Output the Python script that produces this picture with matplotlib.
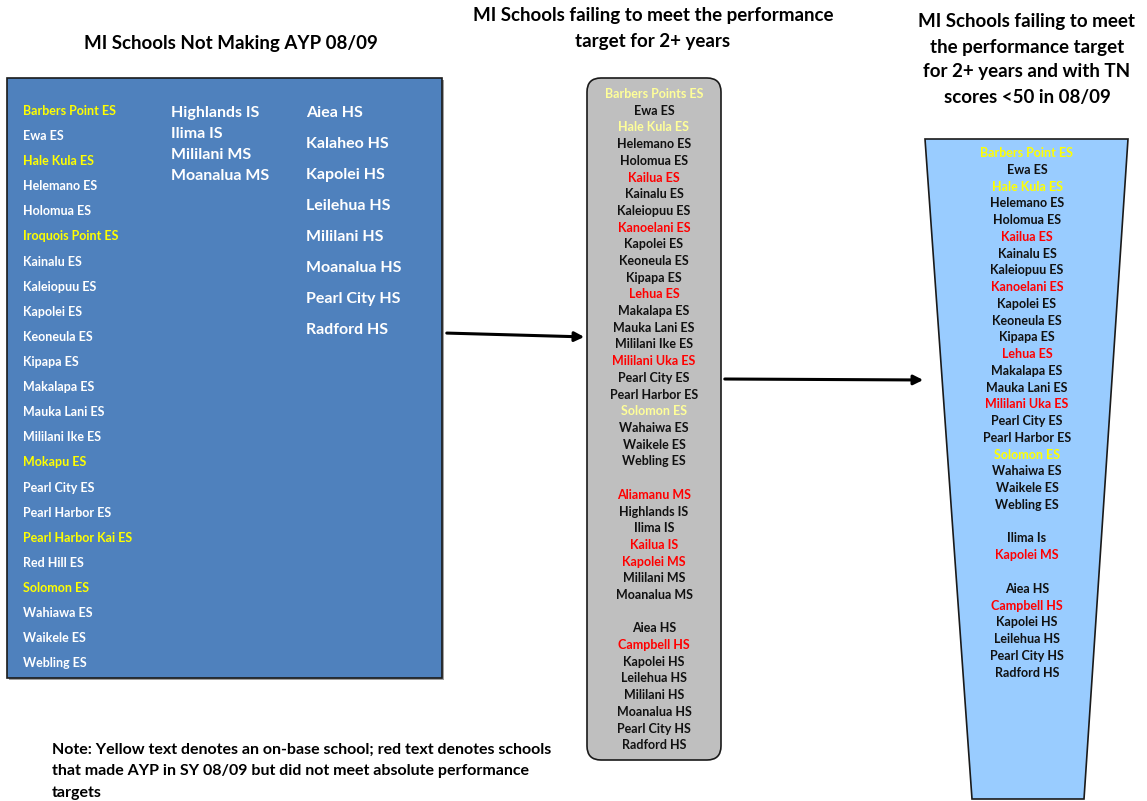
"""Flow diagram of MI schools not making AYP, 08/09."""
import matplotlib

matplotlib.use("Agg")
import matplotlib.pyplot as plt
from matplotlib.patches import FancyBboxPatch, Polygon, Rectangle

plt.rcParams["font.family"] = ["Lato", "DejaVu Sans"]

W, H = 1147, 801

# colour codes: "n" normal, "y" on-base school, "r" made AYP but missed absolute targets
left_es = [
    ("Barbers Point ES", "y"), ("Ewa ES", "n"), ("Hale Kula ES", "y"), ("Helemano ES", "n"),
    ("Holomua ES", "n"), ("Iroquois Point ES", "y"), ("Kainalu ES", "n"), ("Kaleiopuu ES", "n"),
    ("Kapolei ES", "n"), ("Keoneula ES", "n"), ("Kipapa ES", "n"), ("Makalapa ES", "n"),
    ("Mauka Lani ES", "n"), ("Mililani Ike ES", "n"), ("Mokapu ES", "y"), ("Pearl City ES", "n"),
    ("Pearl Harbor ES", "n"), ("Pearl Harbor Kai ES", "y"), ("Red Hill ES", "n"),
    ("Solomon ES", "y"), ("Wahiawa ES", "n"), ("Waikele ES", "n"), ("Webling ES", "n"),
]
left_ms = ["Highlands IS", "Ilima IS", "Mililani MS", "Moanalua MS"]
left_hs = ["Aiea HS", "Kalaheo HS", "Kapolei HS", "Leilehua HS", "Mililani HS",
           "Moanalua HS", "Pearl City HS", "Radford HS"]

mid_list = [
    ("Barbers Points ES", "y"), ("Ewa ES", "n"), ("Hale Kula ES", "y"), ("Helemano ES", "n"),
    ("Holomua ES", "n"), ("Kailua ES", "r"), ("Kainalu ES", "n"), ("Kaleiopuu ES", "n"),
    ("Kanoelani ES", "r"), ("Kapolei ES", "n"), ("Keoneula ES", "n"), ("Kipapa ES", "n"),
    ("Lehua ES", "r"), ("Makalapa ES", "n"), ("Mauka Lani ES", "n"), ("Mililani Ike ES", "n"),
    ("Mililani Uka ES", "r"), ("Pearl City ES", "n"), ("Pearl Harbor ES", "n"),
    ("Solomon ES", "y"), ("Wahaiwa ES", "n"), ("Waikele ES", "n"), ("Webling ES", "n"),
    ("", "n"),
    ("Aliamanu MS", "r"), ("Highlands IS", "n"), ("Ilima IS", "n"), ("Kailua IS", "r"),
    ("Kapolei MS", "r"), ("Mililani MS", "n"), ("Moanalua MS", "n"),
    ("", "n"),
    ("Aiea HS", "n"), ("Campbell HS", "r"), ("Kapolei HS", "n"), ("Leilehua HS", "n"),
    ("Mililani HS", "n"), ("Moanalua HS", "n"), ("Pearl City HS", "n"), ("Radford HS", "n"),
]

right_list = [
    ("Barbers Point ES", "y"), ("Ewa ES", "n"), ("Hale Kula ES", "y"), ("Helemano ES", "n"),
    ("Holomua ES", "n"), ("Kailua ES", "r"), ("Kainalu ES", "n"), ("Kaleiopuu ES", "n"),
    ("Kanoelani ES", "r"), ("Kapolei ES", "n"), ("Keoneula ES", "n"), ("Kipapa ES", "n"),
    ("Lehua ES", "r"), ("Makalapa ES", "n"), ("Mauka Lani ES", "n"), ("Mililani Uka ES", "r"),
    ("Pearl City ES", "n"), ("Pearl Harbor ES", "n"), ("Solomon ES", "y"), ("Wahaiwa ES", "n"),
    ("Waikele ES", "n"), ("Webling ES", "n"),
    ("", "n"),
    ("Ilima Is", "n"), ("Kapolei MS", "r"),
    ("", "n"),
    ("Aiea HS", "n"), ("Campbell HS", "r"), ("Kapolei HS", "n"), ("Leilehua HS", "n"),
    ("Pearl City HS", "n"), ("Radford HS", "n"),
]

title_left = ["MI Schools Not Making AYP 08/09"]
title_mid = ["MI Schools failing to meet the performance", "target for 2+ years"]
title_right = ["MI Schools failing to meet", "the performance target",
               "for 2+ years and with TN", "scores <50 in 08/09"]
note = ["Note: Yellow text denotes an on-base school; red text denotes schools",
        "that made AYP in SY 08/09 but did not meet absolute performance",
        "targets"]

fig = plt.figure(figsize=(W / 100, H / 100), dpi=100)
ax = fig.add_axes([0, 0, 1, 1])
ax.set_xlim(0, W)
ax.set_ylim(H, 0)
ax.axis("off")

# left box
ax.add_patch(Rectangle((9, 80), 435, 600, facecolor="#a0a0a0", edgecolor="none"))
ax.add_patch(Rectangle((7, 78), 435, 600, facecolor="#4f81bd", edgecolor="#1a1a1a", linewidth=1.2))
left_col = {"n": "white", "y": "#ffff00", "r": "#ff0000"}
for i, (name, c) in enumerate(left_es):
    ax.text(23, 111 + i * 25.1, name, color=left_col[c], fontsize=9, fontweight="bold",
            va="center", ha="left")
for i, name in enumerate(left_ms):
    ax.text(171, 113 + i * 21, name, color="white", fontsize=11.5, fontweight="bold",
            va="center", ha="left")
for i, name in enumerate(left_hs):
    ax.text(306, 113 + i * 31, name, color="white", fontsize=11.5, fontweight="bold",
            va="center", ha="left")

# middle rounded box
ax.add_patch(FancyBboxPatch((587, 78), 134, 682, boxstyle="round,pad=0,rounding_size=14",
                            facecolor="#bfbfbf", edgecolor="#1a1a1a", linewidth=1.2))
mid_col = {"n": "#111111", "y": "#ffff99", "r": "#ff0000"}
for i, (name, c) in enumerate(mid_list):
    ax.text(654, 94 + i * 16.7, name, color=mid_col[c], fontsize=9, fontweight="bold",
            va="center", ha="center")

# right tapered box
ax.add_patch(Polygon([(925, 139), (1128, 139), (1084, 799), (972, 799)], closed=True,
                     facecolor="#99ccff", edgecolor="#1a1a1a", linewidth=1.2))
right_col = {"n": "#111111", "y": "#ffff00", "r": "#ff0000"}
for i, (name, c) in enumerate(right_list):
    ax.text(1027, 153 + i * 16.76, name, color=right_col[c], fontsize=9, fontweight="bold",
            va="center", ha="center")

# arrows
arrow = dict(arrowstyle="-|>", color="black", linewidth=2.2, mutation_scale=14)
ax.annotate("", xy=(587, 337), xytext=(444, 333), arrowprops=arrow)
ax.annotate("", xy=(926, 380), xytext=(722, 379), arrowprops=arrow)

# titles and note
for lines, x, y0 in [(title_left, 231, 44), (title_mid, 653, 16), (title_right, 1027, 22)]:
    for k, line in enumerate(lines):
        ax.text(x, y0 + k * 25, line, fontsize=13.5, fontweight="bold", ha="center", va="center")
for k, line in enumerate(note):
    ax.text(52, 750 + k * 21.5, line, fontsize=11.5, fontweight="bold", ha="left", va="center")

fig.savefig("out.png", dpi=100)
